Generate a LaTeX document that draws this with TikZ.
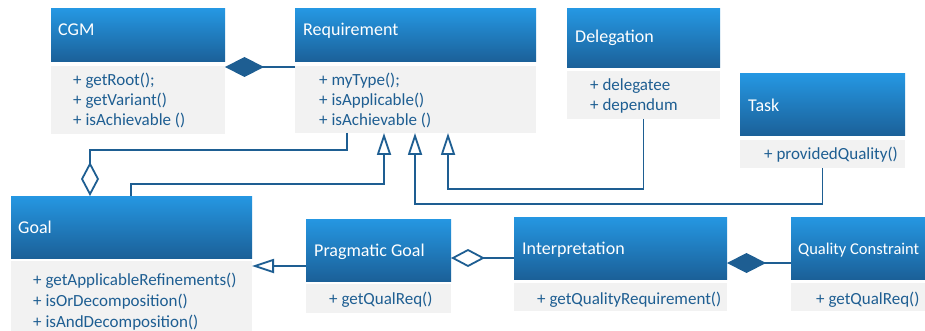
\documentclass[tikz,border=0pt]{standalone}
\usepackage{fontspec}
\setmainfont{Carlito}
\usetikzlibrary{arrows.meta,calc}
\definecolor{hdTop}{RGB}{37,151,226}
\definecolor{hdBot}{RGB}{27,96,152}
\definecolor{bodyFill}{RGB}{242,242,242}
\definecolor{ink}{RGB}{30,94,146}
\begin{document}
\begin{tikzpicture}[x=1pt,y=-1pt,
  hdr/.style={rectangle, anchor=north west, shading=axis, top color=hdTop, bottom color=hdBot, inner sep=0pt, outer sep=0pt},
  bdy/.style={rectangle, anchor=north west, fill=bodyFill, inner sep=0pt, outer sep=0pt},
  ttl/.style={anchor=base west, text=white, font=\fontsize{18}{20}\selectfont, inner sep=0pt},
  mth/.style={anchor=base west, text=ink, font=\fontsize{17}{20}\selectfont, inner sep=0pt},
  conn/.style={draw=ink, line width=1.8pt},
  inh/.style={conn, -{Triangle[open, length=22pt, width=14pt]}},
  aggr/.style={conn, -{Diamond[open, length=34pt, width=18pt]}},
  comp/.style={conn, -{Diamond[length=39pt, width=20pt]}}]
\useasboundingbox (0,0) rectangle (925,331);
\fill[white] (0,0) rectangle (925,331);

% CGM
\node[hdr, minimum width=174pt, minimum height=53pt] (cgmH) at (51,9) {};
\node[bdy, minimum width=174pt, minimum height=68pt] (cgmB) at (51,66) {};
\node[ttl] (cgmT) at (58,36) {CGM};
\node[mth] (cgmM) at (73,86) {\vtop{\hbox{+ getRoot();}\hbox{+ getVariant()}\hbox{+ isAchievable ()}}};

% Requirement
\node[hdr, minimum width=241pt, minimum height=53pt] (reqH) at (295,9) {};
\node[bdy, minimum width=241pt, minimum height=67pt] (reqB) at (295,66) {};
\node[ttl] (reqT) at (303,36) {Requirement};
\node[mth] (reqM) at (319,86) {\vtop{\hbox{+ myType();}\hbox{+ isApplicable()}\hbox{+ isAchievable ()}}};

% Delegation
\node[hdr, minimum width=153pt, minimum height=59pt] (delH) at (567,9) {};
\node[bdy, minimum width=153pt, minimum height=48pt] (delB) at (567,71) {};
\node[ttl] (delT) at (575,43) {Delegation};
\node[mth] (delM) at (590,91) {\vtop{\hbox{+ delegatee}\hbox{+ dependum}}};

% Task
\node[hdr, minimum width=165pt, minimum height=62pt] (taskH) at (740,74) {};
\node[bdy, minimum width=165pt, minimum height=28pt] (taskB) at (740,140) {};
\node[ttl] (taskT) at (748,112) {Task};
\node[mth] (taskM) at (764,160) {+ providedQuality()};

% Goal
\node[hdr, minimum width=241pt, minimum height=62pt] (goalH) at (11,196) {};
\node[bdy, minimum width=241pt, minimum height=80pt] (goalB) at (11,261) {};
\node[ttl] (goalT) at (18,233) {Goal};
\node[mth] (goalM) at (33,285) {\vtop{\baselineskip=21pt\hbox{+ getApplicableRefinements()}\hbox{+ isOrDecomposition()}\hbox{+ isAndDecomposition()}}};

% Pragmatic Goal
\node[hdr, minimum width=145pt, minimum height=62pt] (pgH) at (306,219) {};
\node[bdy, minimum width=145pt, minimum height=29pt] (pgB) at (306,284) {};
\node[ttl] (pgT) at (314,256) {Pragmatic Goal};
\node[mth] (pgM) at (329,304) {+ getQualReq()};

% Interpretation
\node[hdr, minimum width=213pt, minimum height=62pt] (intH) at (514,217) {};
\node[bdy, minimum width=213pt, minimum height=28pt] (intB) at (514,283) {};
\node[ttl] (intT) at (522,254) {Interpretation};
\node[mth] (intM) at (537,304) {+ getQualityRequirement()};

% Quality Constraint
\node[hdr, minimum width=150pt, minimum height=62pt] (qcH) at (791,217) {};
\node[bdy, minimum width=150pt, minimum height=28pt] (qcB) at (791,283) {};
\node[ttl, font=\fontsize{16.5}{20}\selectfont] (qcT) at (798,254) {Quality Constraint};
\node[mth] (qcM) at (816,304) {+ getQualReq()};

% connectors
\draw[comp] ([yshift=-1pt]reqB.north west) -- ([yshift=-1pt]cgmB.north east);
\draw[aggr] ([xshift=52pt]reqB.south west) |- ([xshift=79pt,yshift=46pt]goalH.north west) -- ([xshift=79pt]goalH.north west);
\draw[inh] ([xshift=120pt]goalH.north west) |- ([xshift=89pt,yshift=-51pt]reqB.south west) -- ([xshift=89pt]reqB.south west);
\draw[inh] (taskB.south) |- ([xshift=120pt,yshift=-71pt]reqB.south west) -- ([xshift=120pt]reqB.south west);
\draw[inh] (delB.south) |- ([xshift=153pt,yshift=-56pt]reqB.south west) -- ([xshift=153pt]reqB.south west);
\coordinate (pgL) at ([yshift=15pt]pgH.south west);
\draw[inh] (pgL) -- (pgL -| goalB.east);
\coordinate (intL) at ([yshift=21pt]intH.south west);
\draw[aggr] (intL) -- (intL -| pgH.east);
\coordinate (qcL) at ([yshift=16pt]qcH.south west);
\draw[comp] (qcL) -- (qcL -| intH.east);
\end{tikzpicture}
\end{document}
